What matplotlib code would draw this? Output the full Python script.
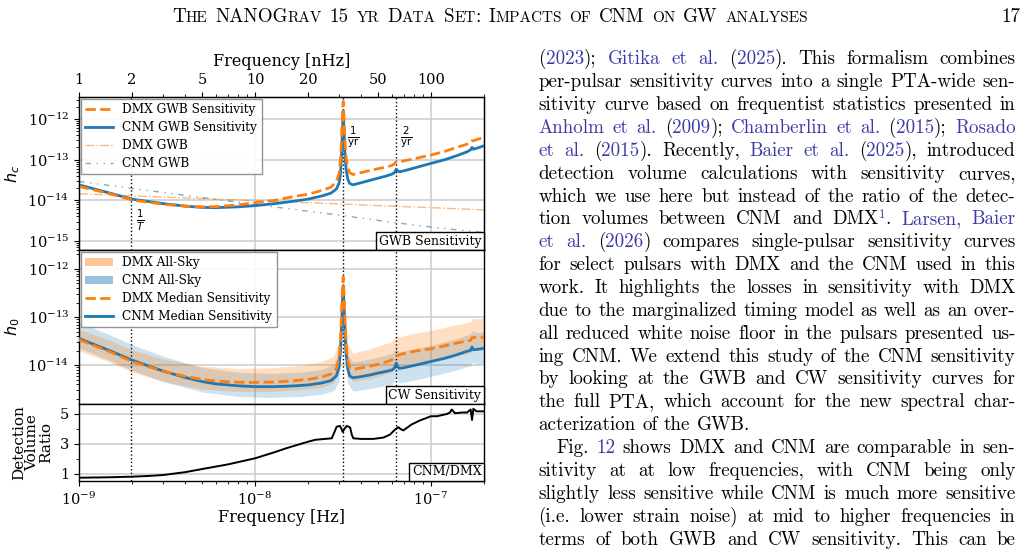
import matplotlib
matplotlib.use('Agg')
import matplotlib.pyplot as plt
import numpy as np
from matplotlib.ticker import FixedLocator, NullFormatter, FuncFormatter
from matplotlib.lines import Line2D
from matplotlib.patches import Patch
from matplotlib.offsetbox import AnchoredText

# ---------------- data (frequencies in nHz) ----------------
freq_nhz = [1.0, 1.5, 2.0, 3.0, 4.0, 5.0, 6.0, 8.0, 10.0, 13.0, 16.0, 20.0, 24.0, 27.0,
            29.0, 30.0, 30.6, 31.0, 31.4, 31.7, 32.0, 32.4, 32.9, 33.6, 34.5, 36.0,
            40.0, 45.0, 50.0, 55.0, 60.0, 62.0, 63.4, 64.5, 66.0, 70.0, 80.0, 100.0,
            120.0, 140.0, 160.0, 168.0, 171.0, 174.0, 185.0, 200.0]

cnm_gwb_sens = [2.4e-14, 1.5e-14, 1.07e-14, 8.3e-15, 7.2e-15, 6.7e-15, 6.6e-15, 6.9e-15,
                7.4e-15, 8.3e-15, 9.3e-15, 1.07e-14, 1.28e-14, 1.5e-14, 1.9e-14, 2.6e-14,
                4.5e-14, 1.2e-13, 5e-13, 1.6e-12, 6e-13, 1.5e-13, 6e-14, 3.4e-14, 2.6e-14,
                2.4e-14, 2.7e-14, 3.1e-14, 3.5e-14, 3.9e-14, 4.4e-14, 4.8e-14, 5.8e-14,
                5.4e-14, 5.0e-14, 5.3e-14, 6.2e-14, 8.1e-14, 1.0e-13, 1.25e-13, 1.55e-13,
                1.75e-13, 2.0e-13, 1.8e-13, 1.95e-13, 2.2e-13]

dmx_gwb_sens = [2.2e-14, 1.45e-14, 1.02e-14, 8.0e-15, 7.2e-15, 6.9e-15, 7.0e-15, 7.7e-15,
                8.7e-15, 1.0e-14, 1.2e-14, 1.41e-14, 1.75e-14, 2.1e-14, 2.9e-14, 4.5e-14,
                1e-13, 3e-13, 1.2e-12, 2.7e-12, 1.2e-12, 3e-13, 1.2e-13, 6.5e-14, 4.8e-14,
                4.3e-14, 4.8e-14, 5.4e-14, 6.0e-14, 6.5e-14, 7.2e-14, 8.0e-14, 8.9e-14,
                8.7e-14, 8.8e-14, 9.3e-14, 1.05e-13, 1.3e-13, 1.6e-13, 2.0e-13, 2.4e-13,
                2.6e-13, 2.9e-13, 2.9e-13, 3.2e-13, 3.5e-13]

cnm_cw_median = [3.6e-14, 2.0e-14, 1.28e-14, 7.6e-15, 5.6e-15, 4.6e-15, 4.1e-15, 3.75e-15,
                 3.6e-15, 3.6e-15, 3.7e-15, 3.9e-15, 4.3e-15, 4.8e-15, 6e-15, 9e-15,
                 2e-14, 6e-14, 2e-13, 4.5e-13, 2e-13, 5e-14, 1.8e-14, 8.5e-15, 6.0e-15,
                 5.5e-15, 5.8e-15, 6.3e-15, 6.9e-15, 7.4e-15, 8.0e-15, 8.8e-15, 1.1e-14,
                 9.5e-15, 8.6e-15, 8.9e-15, 9.9e-15, 1.2e-14, 1.4e-14, 1.65e-14, 1.95e-14,
                 2.05e-14, 2.4e-14, 2.1e-14, 2.15e-14, 2.25e-14]

dmx_cw_median = [3.4e-14, 1.9e-14, 1.2e-14, 7.5e-15, 5.9e-15, 5.1e-15, 4.7e-15, 4.45e-15,
                 4.4e-15, 4.5e-15, 4.7e-15, 5.1e-15, 5.7e-15, 6.6e-15, 8.5e-15, 1.4e-14,
                 3.5e-14, 1.2e-13, 4e-13, 6.9e-13, 3.5e-13, 1e-13, 3e-14, 1.3e-14, 9e-15,
                 8.2e-15, 8.8e-15, 9.6e-15, 1.05e-14, 1.15e-14, 1.3e-14, 1.5e-14, 1.6e-14,
                 1.6e-14, 1.65e-14, 1.75e-14, 1.95e-14, 2.2e-14, 2.55e-14, 2.9e-14, 3.2e-14,
                 3.3e-14, 3.8e-14, 3.8e-14, 3.75e-14, 3.8e-14]

band_nhz = [1, 1.5, 2, 3, 5, 8, 12, 18, 24, 28, 30, 31, 31.7, 32.4, 33.6, 36, 45, 60,
            63.4, 66, 80, 100, 140, 168, 171, 185, 200]
cnm_sky_hi = [7.8e-14, 4.3e-14, 2.7e-14, 1.55e-14, 9.0e-15, 7.2e-15, 6.8e-15, 7.2e-15,
              8.2e-15, 1.05e-14, 1.9e-14, 1.1e-13, 6e-13, 9e-14, 1.7e-14, 1.15e-14,
              1.35e-14, 1.75e-14, 2.3e-14, 1.9e-14, 2.2e-14, 2.6e-14, 3.6e-14, 4.5e-14,
              5.2e-14, 4.7e-14, 5.0e-14]
cnm_sky_lo = [2.3e-14, 1.25e-14, 7.9e-15, 4.6e-15, 2.8e-15, 2.25e-15, 2.15e-15, 2.25e-15,
              2.5e-15, 3.0e-15, 4.5e-15, 2.5e-14, 1.6e-13, 2e-14, 4.2e-15, 2.9e-15,
              3.3e-15, 4.0e-15, 5.5e-15, 4.3e-15, 4.9e-15, 5.9e-15, 8.0e-15, 9.8e-15,
              1.15e-14, 1.05e-14, 1.1e-14]
dmx_sky_hi = [5.6e-14, 3.3e-14, 2.1e-14, 1.35e-14, 9.5e-15, 8.6e-15, 8.8e-15, 9.9e-15,
              1.2e-14, 1.55e-14, 3.0e-14, 2.4e-13, 8.5e-13, 2e-13, 2.8e-14, 1.8e-14,
              2.2e-14, 3.1e-14, 4.1e-14, 3.9e-14, 4.6e-14, 5.3e-14, 7.0e-14, 8.0e-14,
              9.5e-14, 9.2e-14, 9.5e-14]
dmx_sky_lo = [2.0e-14, 1.15e-14, 7.3e-15, 4.6e-15, 3.2e-15, 2.85e-15, 2.85e-15, 3.1e-15,
              3.5e-15, 4.3e-15, 7.5e-15, 5e-14, 3e-13, 4e-14, 7e-15, 4.6e-15, 5.3e-15,
              7.2e-15, 8.8e-15, 9.0e-15, 1.07e-14, 1.2e-14, 1.6e-14, 1.8e-14, 2.1e-14,
              2.05e-14, 2.1e-14]

gwb_nhz = [1.0, 10.0, 31.7, 63.4, 100.0, 200.0]
dmx_gwb = [1.45e-14, 9.8e-15, 8.1e-15, 7.1e-15, 6.6e-15, 5.8e-15]
cnm_gwb = [2.9e-14, 7.9e-15, 4.2e-15, 2.8e-15, 2.2e-15, 1.6e-15]

ratio_nhz = [1.0, 1.5, 2.0, 2.5, 3.0, 4.0, 5.0, 7.0, 10.0, 13.0, 15.0, 18.0, 20.0, 22.0,
             25.0, 27.3, 28.3, 29.1, 30.4, 31.0, 31.5, 32.2, 33.2, 34.7, 35.5, 36.2,
             40.0, 47.0, 53.6, 58.5, 62.4, 65.2, 67.0, 69.6, 77.6, 86.6, 100.0, 108.0,
             123.0, 128.0, 131.0, 137.0, 150.0, 160.0, 168.0, 171.0, 174.0, 181.0, 200.0]
ratio_vals = [0.73, 0.76, 0.80, 0.85, 0.91, 1.10, 1.31, 1.62, 2.03, 2.45, 2.70, 2.98, 3.14,
              3.27, 3.33, 3.37, 3.8, 4.15, 4.2, 4.0, 3.8, 4.0, 4.2, 4.1, 3.6, 3.37, 3.33,
              3.33, 3.42, 3.62, 3.95, 4.12, 4.0, 3.9, 4.3, 4.57, 4.85, 4.85, 5.0, 5.1,
              5.3, 5.05, 5.1, 5.1, 5.3, 4.6, 5.35, 5.18, 5.18]

marker_nhz = [1.98, 31.7, 63.4]   # 1/T, 1/yr, 2/yr
top_ticks = [1, 2, 5, 10, 20, 50, 100]
top_minor = [3, 4, 6, 7, 8, 9, 30, 40, 60, 70, 80, 90, 200]

header_words = [[("T", 1), ("HE", 0)], [("NANOG", 1), ("RAV", 0)], [("15", 1)], [("YR", 0)],
                [("D", 1), ("ATA", 0)], [("S", 1), ("ET", 0), (":", 1)],
                [("I", 1), ("MPACTS", 0)], [("OF", 0)], [("CNM", 1)], [("ON", 0)],
                [("GW", 1)], [("ANALYSES", 0)]]
page_number = "17"

body_lines = [
    "({2023}); {Gitika et al.} ({2025}). This formalism combines",
    "per-pulsar sensitivity curves into a single PTA-wide sen-",
    "sitivity curve based on frequentist statistics presented in",
    "{Anholm et al.} ({2009}); {Chamberlin et al.} ({2015}); {Rosado}",
    "{et al.} ({2015}). Recently, {Baier et al.} ({2025}), introduced",
    "detection volume calculations with sensitivity curves,",
    "which we use here but instead of the ratio of the detec-",
    "tion volumes between CNM and DMX|{1}|. {Larsen, Baier}",
    "{et al.} ({2026}) compares single-pulsar sensitivity curves",
    "for select pulsars with DMX and the CNM used in this",
    "work. It highlights the losses in sensitivity with DMX",
    "due to the marginalized timing model as well as an over-",
    "all reduced white noise floor in the pulsars presented us-",
    "ing CNM. We extend this study of the CNM sensitivity",
    "by looking at the GWB and CW sensitivity curves for",
    "the full PTA, which account for the new spectral char-",
    "acterization of the GWB.",
    "Fig. {12} shows DMX and CNM are comparable in sen-",
    "sitivity at at low frequencies, with CNM being only",
    "slightly less sensitive while CNM is much more sensitive",
    "(i.e. lower strain noise) at mid to higher frequencies in",
    "terms of both GWB and CW sensitivity. This can be",
]
last_of_paragraph = {16}
indented = {17}

# ---------------- style ----------------
W, H = 1028, 552
plt.rcParams['font.family'] = ['DejaVu Serif']
plt.rcParams['mathtext.fontset'] = 'dejavusans'
plt.rcParams['xtick.labelsize'] = 10.5
plt.rcParams['ytick.labelsize'] = 10.5
plt.rcParams['axes.labelsize'] = 11.5

ORANGE = '#ff7f0e'
BLUE = '#1f77b4'
GRID = '#cccccc'

fig = plt.figure(figsize=(W / 100, H / 100), dpi=100)


def fx(px):
    return px / W


def fy(py):
    return 1 - py / H


L, R = 79, 484
ax1 = fig.add_axes([fx(L), fy(250), fx(R) - fx(L), fy(97) - fy(250)])
ax2 = fig.add_axes([fx(L), fy(404), fx(R) - fx(L), fy(250) - fy(404)], sharex=ax1)
ax3 = fig.add_axes([fx(L), fy(481), fx(R) - fx(L), fy(404) - fy(481)], sharex=ax1)

f = np.array(freq_nhz) * 1e-9
fb = np.array(band_nhz) * 1e-9
fg = np.array(gwb_nhz) * 1e-9
fr = np.array(ratio_nhz) * 1e-9

# --- top panel
ax1.plot(f, cnm_gwb_sens, color=BLUE, lw=2.0, zorder=3)
ax1.plot(f, dmx_gwb_sens, color=ORANGE, lw=2.0, ls='--', zorder=4)
ax1.plot(fg, dmx_gwb, color=ORANGE, lw=1.0, ls='-.', alpha=0.55, zorder=2)
ax1.plot(fg, cnm_gwb, color=BLUE, lw=1.0, ls=(0, (4, 4, 1, 4, 1, 4)), alpha=0.6, zorder=2)
ax1.set_yscale('log')
ax1.set_xscale('log')
ax1.set_xlim(1e-9, 2e-7)
ax1.set_ylim(6.0e-16, 3.47e-12)
ax1.set_ylabel('$h_c$')
ax1.yaxis.set_label_coords(-0.14, 0.5)
h1 = [Line2D([], [], color=ORANGE, lw=2, ls='--'), Line2D([], [], color=BLUE, lw=2),
      Line2D([], [], color=ORANGE, lw=1, ls='-.', alpha=0.55),
      Line2D([], [], color=BLUE, lw=1, ls=(0, (4, 4, 1, 4, 1, 4)), alpha=0.6)]
ax1.legend(h1, ['DMX GWB Sensitivity', 'CNM GWB Sensitivity', 'DMX GWB', 'CNM GWB'],
           loc='upper left', fontsize=8.7, handlelength=2.3, borderaxespad=0.15,
           fancybox=False, edgecolor='#888888', framealpha=0.9, labelspacing=0.42,
           borderpad=0.35)

# --- middle panel
ax2.fill_between(fb, cnm_sky_lo, cnm_sky_hi, color=BLUE, alpha=0.22, lw=0, zorder=1)
ax2.fill_between(fb, dmx_sky_lo, dmx_sky_hi, color=ORANGE, alpha=0.25, lw=0, zorder=1)
ax2.plot(f, cnm_cw_median, color=BLUE, lw=2.0, zorder=3)
ax2.plot(f, dmx_cw_median, color=ORANGE, lw=2.0, ls='--', zorder=4)
ax2.set_yscale('log')
ax2.set_ylim(1.57e-15, 2.48e-12)
ax2.set_ylabel('$h_0$')
ax2.yaxis.set_label_coords(-0.14, 0.5)
h2 = [Patch(color=ORANGE, alpha=0.45, lw=0), Patch(color=BLUE, alpha=0.45, lw=0),
      Line2D([], [], color=ORANGE, lw=2, ls='--'), Line2D([], [], color=BLUE, lw=2)]
ax2.legend(h2, ['DMX All-Sky', 'CNM All-Sky', 'DMX Median Sensitivity', 'CNM Median Sensitivity'],
           loc='upper left', fontsize=8.7, handlelength=2.3, borderaxespad=0.15,
           fancybox=False, edgecolor='#888888', framealpha=0.9, labelspacing=0.42,
           borderpad=0.35)

# --- bottom panel
ax3.plot(fr, ratio_vals, color='black', lw=1.4, zorder=3)
ax3.set_ylim(0.51, 5.67)
ax3.yaxis.set_major_locator(FixedLocator([1, 3, 5]))
ax3.yaxis.set_minor_locator(FixedLocator([2, 4]))
ax3.set_ylabel('Detection\nVolume\nRatio', linespacing=0.95, fontsize=11)
ax3.yaxis.set_label_coords(-0.064, 0.5)
ax3.set_xlabel('Frequency [Hz]', labelpad=1)

for ax in (ax1, ax2, ax3):
    ax.grid(True, which='major', color=GRID, lw=1.1)
    ax.set_axisbelow(True)
    for m in marker_nhz:
        ax.axvline(m * 1e-9, color='black', ls=':', lw=1.0, zorder=2)
    for s in ax.spines.values():
        s.set_linewidth(1.0)
for ax in (ax1, ax2):
    ax.tick_params(axis='x', which='both', bottom=False, labelbottom=False)

# top frequency axis in nHz
axt = ax1.twiny()
axt.set_xscale('log')
axt.set_xlim(1, 200)
axt.xaxis.set_major_locator(FixedLocator(top_ticks))
axt.xaxis.set_major_formatter(FuncFormatter(lambda v, p: f'{v:g}'))
axt.xaxis.set_minor_locator(FixedLocator(top_minor))
axt.xaxis.set_minor_formatter(NullFormatter())
axt.set_xlabel('Frequency [nHz]', labelpad=5)

# annotations
ax1.text(2.1e-9, 3.3e-15, r'$\frac{1}{T}$', fontsize=10.5, ha='left', va='center')
ax1.text(3.32e-8, 3.6e-13, r'$\frac{1}{\mathrm{yr}}$', fontsize=10.5, ha='left', va='center')
ax1.text(6.7e-8, 3.6e-13, r'$\frac{2}{\mathrm{yr}}$', fontsize=10.5, ha='left', va='center')


def add_box(ax, text):
    at = AnchoredText(text, loc='lower right', prop=dict(size=9), frameon=True,
                      pad=0.2, borderpad=0.0)
    at.patch.set_boxstyle('square,pad=0')
    at.patch.set_edgecolor('black')
    at.patch.set_linewidth(1.0)
    at.zorder = 6
    ax.add_artist(at)


add_box(ax1, 'GWB Sensitivity')
add_box(ax2, 'CW Sensitivity')
add_box(ax3, 'CNM/DMX')

# ---------------- page text ----------------
renderer = fig.canvas.get_renderer()
TFONT = ['cmr10', 'Liberation Serif', 'DejaVu Serif']
LINK = '#3b3ba6'
BODY_FS = 13.7


def seg_text(text, color, size):
    t = fig.text(0, 0, text, fontsize=size, family=TFONT, color=color,
                 ha='left', va='baseline')
    return t, t.get_window_extent(renderer).width


def place_words(words, x0, x1, ybase, justify, space):
    built, widths = [], []
    for word in words:
        segs = [(seg_text(tx, col, sz), rise) for (tx, col, sz, rise) in word]
        built.append(segs)
        widths.append(sum(s[0][1] for s in segs))
    n = len(built)
    gap = (x1 - x0 - sum(widths)) / (n - 1) if (justify and n > 1) else space
    x = x0
    for segs, ww in zip(built, widths):
        xx = x
        for (t, w), rise in segs:
            t.set_position((xx / W, 1 - (ybase - rise) / H))
            xx += w
        x += ww + gap


def parse(line):
    words, cur, buf = [], [], ''
    state = {'blue': False, 'sup': False}

    def flush():
        nonlocal buf
        if buf:
            col = LINK if state['blue'] else 'black'
            sz = BODY_FS * (0.7 if state['sup'] else 1.0)
            rise = 6.5 if state['sup'] else 0
            cur.append((buf, col, sz, rise))
            buf = ''

    for ch in line:
        if ch in '{}':
            flush()
            state['blue'] = (ch == '{')
        elif ch == '|':
            flush()
            state['sup'] = not state['sup']
        elif ch == ' ':
            flush()
            if cur:
                words.append(cur)
                cur = []
        else:
            buf += ch
    flush()
    if cur:
        words.append(cur)
    return words


X0, X1 = 538.5, 1015.5
BASE0, LSTEP = 64.3, 22.87
for i, line in enumerate(body_lines):
    x0 = X0 + (17.5 if i in indented else 0)
    place_words(parse(line), x0, X1, BASE0 + i * LSTEP, i not in last_of_paragraph, 6.3)

BIG, SMALL = 13.7, 11.0
hw = [[(tx, 'black', BIG if big else SMALL, 0) for tx, big in w] for w in header_words]
place_words(hw, 172, 808, 22, True, 6)
fig.text(1020 / W, 1 - 22 / H, page_number, fontsize=BIG, family=TFONT,
         ha='right', va='baseline')

fig.savefig('out.png', dpi=100)
